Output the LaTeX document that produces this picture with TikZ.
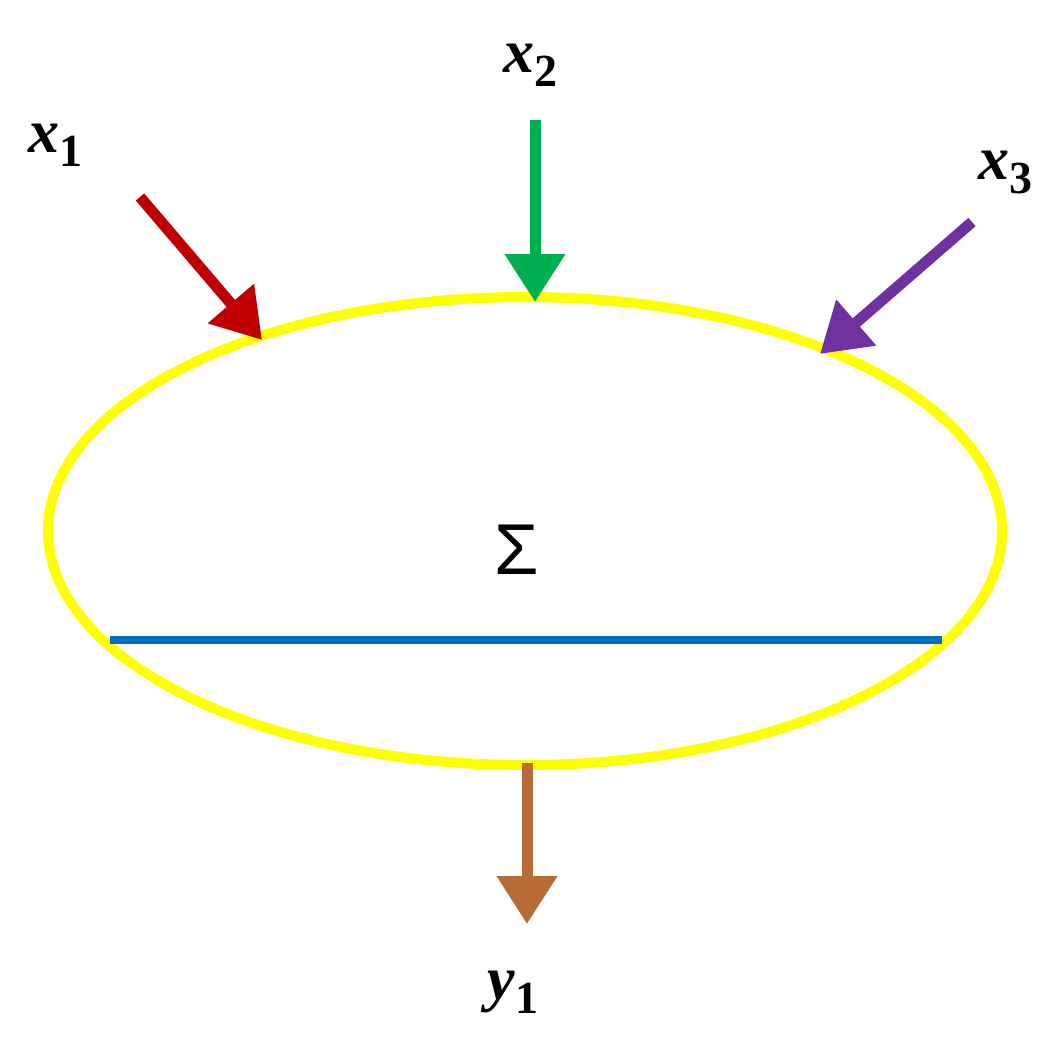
\documentclass[tikz,border=0pt]{standalone}
\usepackage{fontspec}
\setmainfont{Liberation Serif}
\newfontfamily\sigfont{Liberation Sans}
\usetikzlibrary{arrows.meta,shapes.geometric}
\definecolor{cred}{RGB}{192,0,0}
\definecolor{cgreen}{RGB}{0,176,80}
\definecolor{cpurple}{RGB}{112,48,160}
\definecolor{cbrown}{RGB}{182,108,52}
\definecolor{cblue}{RGB}{0,112,192}
\definecolor{cyel}{RGB}{255,255,0}
\newcommand{\lab}[2]{{\fontsize{62}{70}\selectfont\bfseries\itshape #1\raisebox{-14pt}{\fontsize{46}{50}\selectfont\upshape #2}}}
\begin{document}
\begin{tikzpicture}[x=1pt,y=-1pt,
  inarrow/.style={line width=11pt,-{Triangle[length=48pt,width=58pt]}},
  lbl/.style={inner sep=0pt}]
\useasboundingbox (0,0) rectangle (1054,1054);
\node[draw=cyel,line width=10pt,ellipse,minimum width=954pt,minimum height=468pt,inner sep=0pt] (e) at (525,531) {};
\node[lbl] (s) at (517,550) {\sigfont\fontsize{72}{80}\selectfont Σ};
\coordinate (bl) at (110,640); \coordinate (br) at (942,640);
\draw[cblue,line width=8pt] (bl) -- (br);
\coordinate (a1) at (140,197); \coordinate (b1) at (262,340);
\coordinate (a2) at (535,120); \coordinate (b2) at (535,302);
\coordinate (a3) at (972,222); \coordinate (b3) at (820,354);
\coordinate (a4) at (527,763); \coordinate (b4) at (527,924);
\draw[inarrow,cred] (a1) -- (b1);
\draw[inarrow,cgreen] (a2) -- (b2);
\draw[inarrow,cpurple] (a3) -- (b3);
\draw[inarrow,cbrown] (a4) -- (b4);
\node[lbl] (x1) at (55,145) {\lab{x}{1}};
\node[lbl] (x2) at (530,65) {\lab{x}{2}};
\node[lbl] (x3) at (1005,172) {\lab{x}{3}};
\node[lbl] (y1) at (513,992) {\lab{y}{1}};
\end{tikzpicture}
\end{document}
